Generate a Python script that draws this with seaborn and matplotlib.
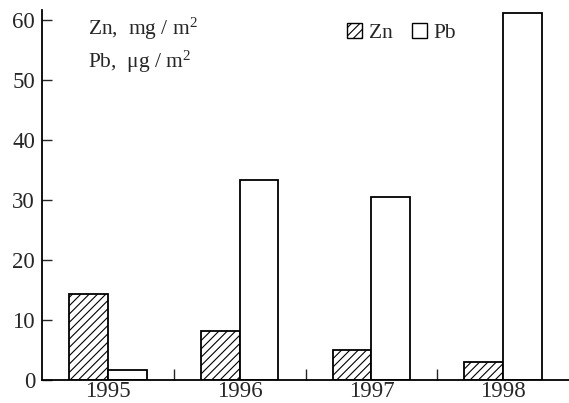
# Basics
import numpy as np
import pandas as pd

# Visualization
import matplotlib
matplotlib.use('Agg')
import matplotlib.pyplot as plt
import seaborn as sns
from matplotlib.patches import Patch
from matplotlib.ticker import FixedLocator

# Data
years = ['1995', '1996', '1997', '1998']
zn_values = [14.4, 8.2, 5.05, 3.0]     # Zn, mg/m2
pb_values = [1.7, 33.3, 30.5, 61.2]    # Pb, ug/m2
metals = ['Zn', 'Pb']
y_ticks = [0, 10, 20, 30, 40, 50, 60]

# Long-form table for seaborn
df = pd.DataFrame({
    'year': years * 2,
    'metal': ['Zn'] * len(years) + ['Pb'] * len(years),
    'value': zn_values + pb_values,
})

sns.set_style('ticks')
plt.rcParams['font.family'] = ['Liberation Serif', 'DejaVu Serif']
plt.rcParams['mathtext.fontset'] = 'custom'
plt.rcParams['mathtext.rm'] = 'Liberation Serif'
plt.rcParams['mathtext.it'] = 'Liberation Serif:italic'
plt.rcParams['hatch.linewidth'] = 0.8

fig = plt.figure(figsize=(5.69, 4.03), dpi=100)
ax = fig.add_axes([42 / 569, 23 / 403, 1 - 42 / 569, 370 / 403])

sns.barplot(data=df, x='year', y='value', hue='metal', hue_order=metals,
            order=years, width=0.59, palette=['white', 'white'],
            edgecolor='black', linewidth=1.3, saturation=1, legend=False, ax=ax)

# Hatch the Zn bars
n = len(years)
for bar in ax.patches[:n]:
    bar.set_hatch('////')

# Axes formatting
ax.set_xlim(-0.5, 3.5)
ax.set_ylim(0, 61.7)
ax.set_xlabel('')
ax.set_ylabel('')
ax.set_yticks(y_ticks)
ax.tick_params(axis='y', direction='in', length=7, width=1, labelsize=16.5, pad=5)
ax.tick_params(axis='x', which='major', length=0, labelsize=16.5, pad=1)
ax.xaxis.set_minor_locator(FixedLocator([0.5, 1.5, 2.5]))
ax.tick_params(axis='x', which='minor', direction='in', length=8, width=1)
sns.despine(ax=ax)
for side in ['left', 'bottom']:
    ax.spines[side].set_linewidth(1.3)
    ax.spines[side].set_color('black')

# Units note
ax.text(0.087, 0.985, r'Zn,  mg / m$^2$', transform=ax.transAxes, fontsize=15.5, va='top')
ax.text(0.087, 0.895, r'Pb,  $\mathrm{\mu}$g / m$^2$', transform=ax.transAxes, fontsize=15.5, va='top')

# Legend
handles = [Patch(facecolor='white', edgecolor='black', hatch='////', linewidth=1),
           Patch(facecolor='white', edgecolor='black', linewidth=1)]
ax.legend(handles, metals, loc='upper left', bbox_to_anchor=(0.555, 1.0),
          ncol=2, frameon=False, fontsize=15.5, handlelength=0.7, handleheight=0.7,
          handletextpad=0.3, columnspacing=0.9, borderaxespad=0.2)

fig.savefig('out.png', dpi=100)
